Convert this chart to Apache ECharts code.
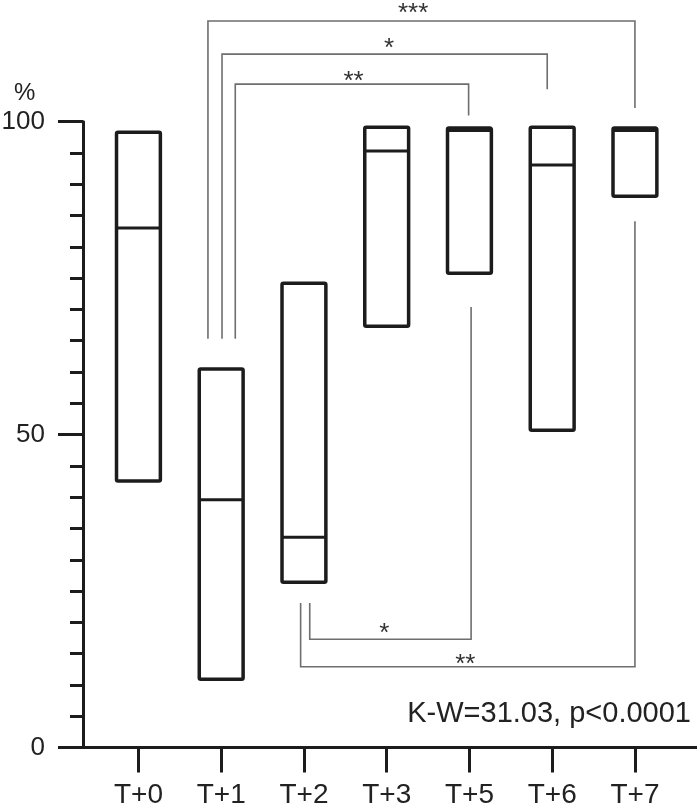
<!DOCTYPE html>
<html>
<head>
<meta charset="utf-8">
<script src="https://cdn.jsdelivr.net/npm/echarts@6/dist/echarts.min.js"></script>
<style>
  html, body { margin: 0; padding: 0; background: #fff; }
  #main { width: 697px; height: 809px; }
</style>
</head>
<body>
<div id="main"></div>
<script>
// groups and their range / median (%)
const categories = ['T+0', 'T+1', 'T+2', 'T+3', 'T+5', 'T+6', 'T+7'];
const lowValues = [42.6, 10.9, 26.4, 67.3, 75.8, 50.7, 88.1];
const medianValues = [83.0, 39.6, 33.6, 95.3, 98.6, 93.1, 98.6];
const highValues = [98.3, 60.5, 74.2, 99.1, 99.0, 99.1, 99.0];

// pairwise comparisons (x in group index, y in %)
const bracketLabels = ['***', '*', '**', '*', '**'];
const bracketFrom = [0.84, 1.01, 1.17, 2.07, 1.96];
const bracketTo = [6.0, 4.94, 3.99, 4.02, 6.0];
const bracketLevel = [116.1, 110.8, 106.0, 17.3, 12.9];
const bracketFromEnd = [65.3, 65.3, 65.3, 23.1, 23.1];
const bracketToEnd = [102.2, 105.2, 101.0, 70.4, 84.1];
const starX = [3.32, 3.03, 2.60, 2.97, 3.95];
const starY = [117.3, 111.6, 106.3, 18.1, 13.2];

const statText = 'K-W=31.03, p<0.0001';

const ink = '#1c1c1c';
const font = 'Liberation Sans, Arial, sans-serif';
const catIdx = categories.map((c, i) => i);

const boxData = categories.map((c, i) => [i, lowValues[i], medianValues[i], highValues[i]]);
const bracketData = bracketLabels.map((l, i) => [
  bracketFrom[i], bracketTo[i], bracketLevel[i], bracketFromEnd[i], bracketToEnd[i], starX[i], starY[i]
]);

// 箱体: 最小-最大 + 中位线
function renderBox(params, api) {
  const i = api.value(0);
  const top = api.coord([i, api.value(3)]);
  const bottom = api.coord([i, api.value(1)]);
  const mid = api.coord([i, api.value(2)]);
  const w = api.size([0.53, 0])[0];
  const x0 = top[0] - w / 2;
  return {
    type: 'group',
    children: [
      {
        type: 'rect',
        shape: { x: x0, y: top[1], width: w, height: bottom[1] - top[1], r: 1.5 },
        style: { fill: 'none', stroke: ink, lineWidth: 3.5 }
      },
      {
        type: 'line',
        shape: { x1: x0, y1: mid[1], x2: x0 + w, y2: mid[1] },
        style: { stroke: ink, lineWidth: 3 }
      }
    ]
  };
}

// 显著性括号
function renderBracket(params, api) {
  const a = api.coord([api.value(0), api.value(3)]);
  const b = api.coord([api.value(0), api.value(2)]);
  const c = api.coord([api.value(1), api.value(2)]);
  const d = api.coord([api.value(1), api.value(4)]);
  const s = api.coord([api.value(5), api.value(6)]);
  return {
    type: 'group',
    children: [
      {
        type: 'polyline',
        shape: { points: [a, b, c, d] },
        style: { fill: 'none', stroke: '#6e6e6e', lineWidth: 1.6 }
      },
      {
        type: 'text',
        x: s[0], y: s[1],
        style: {
          text: bracketLabels[params.dataIndex],
          fill: '#333', font: '26px ' + font,
          align: 'center', verticalAlign: 'middle'
        }
      }
    ]
  };
}

const chart = echarts.init(document.getElementById('main'));
chart.setOption({
  backgroundColor: '#fff',
  animation: false,
  grid: { left: 83, right: 0, top: 121.7, bottom: 61.5, containLabel: false, outerBoundsMode: 'none' },
  xAxis: {
    type: 'value',
    min: -0.67,
    max: 6.75,
    axisLine: { onZero: false, lineStyle: { color: ink, width: 3 } },
    axisTick: { show: true, customValues: catIdx, length: 25, lineStyle: { color: ink, width: 3 } },
    axisLabel: {
      customValues: catIdx,
      formatter: v => categories[v],
      margin: 34,
      fontSize: 28,
      color: '#222',
      fontFamily: font
    },
    splitLine: { show: false }
  },
  yAxis: {
    type: 'value',
    min: 0,
    max: 100,
    interval: 50,
    axisLine: { show: true, onZero: false, lineStyle: { color: ink, width: 3 } },
    axisTick: { show: true, length: 25, lineStyle: { color: ink, width: 3 } },
    minorTick: { show: true, splitNumber: 10, length: 13, lineStyle: { color: ink, width: 3 } },
    splitLine: { show: false },
    axisLabel: { margin: 38, fontSize: 26, color: '#222', fontFamily: font }
  },
  graphic: [
    {
      type: 'text', left: 14, top: 81,
      style: { text: '%', font: '24px ' + font, fill: '#222' }
    },
    {
      type: 'text', right: 6, top: 699,
      style: { text: statText, font: '29px ' + font, fill: '#222' }
    }
  ],
  series: [
    {
      type: 'custom',
      clip: false,
      renderItem: renderBracket,
      data: bracketData,
      z: 1
    },
    {
      type: 'custom',
      clip: false,
      renderItem: renderBox,
      data: boxData,
      z: 2
    }
  ]
});
</script>
</body>
</html>
